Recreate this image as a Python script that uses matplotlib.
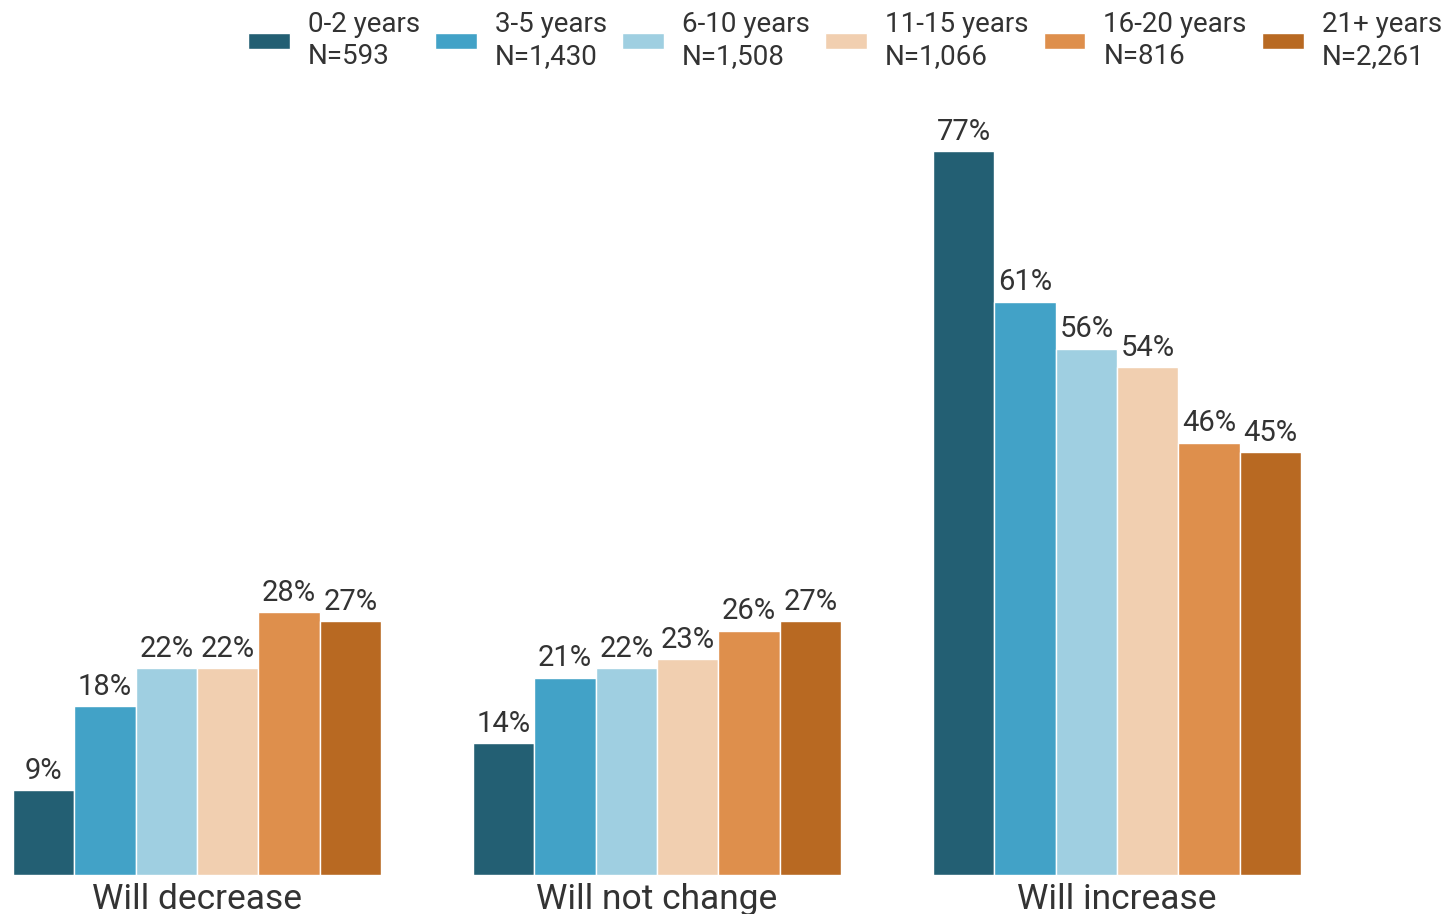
import numpy as np
import matplotlib.pyplot as plt

plt.rcParams['font.family'] = ['Roboto', 'DejaVu Sans']

CATEGORIES = ["Will decrease", "Will not change", "Will increase"]
GROUPS = ["0-2 years\nN=593", "3-5 years\nN=1,430", "6-10 years\nN=1,508",
          "11-15 years\nN=1,066", "16-20 years\nN=816", "21+ years\nN=2,261"]
VALUES = [
    [9, 14, 77],
    [18, 21, 61],
    [22, 22, 56],
    [22, 23, 54],
    [28, 26, 46],
    [27, 27, 45],
]
COLORS = ["#235f73", "#42a2c7", "#9fcfe1", "#f1cfb0", "#de8f4c", "#b86922"]

W = 1453
H = 914
fig = plt.figure(figsize=(W / 100, H / 100), dpi=100)
ax = fig.add_axes([13 / W, 39 / H, (1301 - 13) / W, 752 / H])

x = np.arange(len(CATEGORIES))
width = 0.8 / len(GROUPS)
for i, (label, vals, color) in enumerate(zip(GROUPS, VALUES, COLORS)):
    pos = x - 0.4 + width * (i + 0.5)
    bars = ax.bar(pos, vals, width, color=color, edgecolor="white",
                  linewidth=1, label=label)
    for b, v in zip(bars, vals):
        ax.annotate("{}%".format(v), (b.get_x() + b.get_width() / 2, v),
                    xytext=(0, 8), textcoords="offset points",
                    ha="center", va="baseline", fontsize=21, color="#333333")

# category names sit just under the bars, close to the bottom edge
for xc, name in zip(x, CATEGORIES):
    ax.annotate(name, (xc, 0), xytext=(0, -6), textcoords="offset points",
                ha="center", va="top", fontsize=25.5, color="#333333",
                annotation_clip=False)

ax.set_xlim(-0.4, 2.4)
ax.set_ylim(0, 80)
ax.axis("off")

leg = fig.legend(loc="upper right", bbox_to_anchor=(1.0, 1.0), ncol=6,
                 frameon=False, fontsize=20, handlelength=1.5,
                 handleheight=0.5, handletextpad=0.65, columnspacing=0.55,
                 borderaxespad=0.0, labelcolor="#333333")
for t in leg.get_texts():
    t.set_linespacing(1.22)

fig.savefig("out.png", dpi=100)
